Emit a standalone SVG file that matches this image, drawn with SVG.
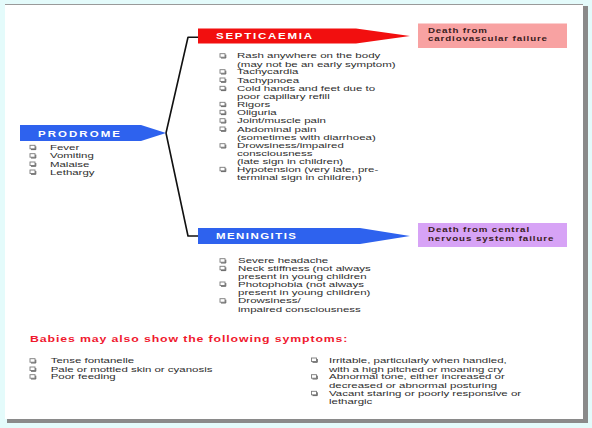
<svg xmlns="http://www.w3.org/2000/svg" xmlns:xlink="http://www.w3.org/1999/xlink" width="592" height="428" viewBox="0 0 592 428">
<style>
.t{font-family:"Liberation Sans",Arial,sans-serif;font-size:8px;fill:#2e2e2e}
.h{font-family:"Liberation Sans",Arial,sans-serif;font-size:9px;font-weight:bold;fill:#ffffff}
.d{font-family:"Liberation Sans",Arial,sans-serif;font-size:7.6px;font-weight:bold;fill:#3a1c1c}
.bh{font-family:"Liberation Sans",Arial,sans-serif;font-size:9.6px;font-weight:bold;fill:#f0182e}
.conn{fill:none;stroke:#111;stroke-width:1.6;stroke-linejoin:round}
</style>
<defs>
<g id="b">
<rect x="0" y="0" width="5" height="3.5" fill="#fff" stroke="#7a7a7a" stroke-width="0.9"/>
<path d="M1,4.3 H5.8 V1" fill="none" stroke="#555" stroke-width="0.9"/>
</g>
</defs>
<rect x="0" y="0" width="592" height="428" fill="#e4fbfb"/>
<rect x="7" y="6" width="581" height="417" fill="#8a8a8a"/>
<rect x="5" y="4" width="578" height="415" fill="#ffffff"/>
<line x1="5" y1="4.5" x2="583" y2="4.5" stroke="#9a9a9a" stroke-width="1.2"/>

<g id="connectors">
<polyline class="conn" points="199,37.3 188,37.3 166,133 188,236 199,236"/>
</g>

<g id="prodrome">
<polygon points="20,125 141,125 166,133 141,141 20,141" fill="#2e62ee"/>
<g transform="translate(38,0) scale(1.28,1)"><text class="h" x="0" y="137" textLength="64">PRODROME</text></g>
<use xlink:href="#b" x="30" y="145.3"/>
<use xlink:href="#b" x="30" y="153.7"/>
<use xlink:href="#b" x="30" y="162"/>
<use xlink:href="#b" x="30" y="170"/>
<g transform="translate(50,0) scale(1.43,1)">
<text class="t" x="0" y="150.1">Fever</text>
<text class="t" x="0" y="158.5">Vomiting</text>
<text class="t" x="0" y="166.8">Malaise</text>
<text class="t" x="0" y="174.8">Lethargy</text>
</g>
</g>

<g id="septicaemia">
<polygon points="198,28.5 356,28.5 410,36 356,43.5 198,43.5" fill="#f20f0f"/>
<g transform="translate(216,0) scale(1.28,1)"><text class="h" x="0" y="38.8" textLength="75">SEPTICAEMIA</text></g>
<use xlink:href="#b" x="220" y="53.7"/>
<use xlink:href="#b" x="220" y="69.7"/>
<use xlink:href="#b" x="220" y="78"/>
<use xlink:href="#b" x="220" y="86.3"/>
<use xlink:href="#b" x="220" y="102.3"/>
<use xlink:href="#b" x="220" y="110.3"/>
<use xlink:href="#b" x="220" y="118.7"/>
<use xlink:href="#b" x="220" y="127"/>
<use xlink:href="#b" x="220" y="143.7"/>
<use xlink:href="#b" x="220" y="167.3"/>
<g transform="translate(237,0) scale(1.44,1)">
<text class="t" x="0" y="58.5">Rash anywhere on the body</text>
<text class="t" x="0" y="66.8">(may not be an early symptom)</text>
<text class="t" x="0" y="74.5">Tachycardia</text>
<text class="t" x="0" y="82.8">Tachypnoea</text>
<text class="t" x="0" y="91.1">Cold hands and feet due to</text>
<text class="t" x="0" y="99.5">poor capillary refill</text>
<text class="t" x="0" y="107.1">Rigors</text>
<text class="t" x="0" y="115.1">Oliguria</text>
<text class="t" x="0" y="123.5">Joint/muscle pain</text>
<text class="t" x="0" y="131.8">Abdominal pain</text>
<text class="t" x="0" y="140.1">(sometimes with diarrhoea)</text>
<text class="t" x="0" y="148.3">Drowsiness/impaired</text>
<text class="t" x="0" y="156.3">consciousness</text>
<text class="t" x="0" y="164.4">(late sign in children)</text>
<text class="t" x="0" y="172.4">Hypotension (very late, pre-</text>
<text class="t" x="0" y="180.4">terminal sign in children)</text>
</g>
</g>

<g id="death-cardio">
<rect x="418" y="23.5" width="149" height="24.5" fill="#f8a2a2"/>
<g transform="translate(428,0) scale(1.28,1)">
<text class="d" x="0" y="33.4" textLength="46">Death from</text>
<text class="d" x="0" y="41.4" textLength="93">cardiovascular failure</text>
</g>
</g>

<g id="meningitis">
<polygon points="198,228 360,228 410,236 360,244 198,244" fill="#2e62ee"/>
<g transform="translate(216,0) scale(1.28,1)"><text class="h" x="0" y="238.6" textLength="62.5">MENINGITIS</text></g>
<use xlink:href="#b" x="220" y="258.7"/>
<use xlink:href="#b" x="220" y="266.3"/>
<use xlink:href="#b" x="220" y="282"/>
<use xlink:href="#b" x="220" y="298.7"/>
<g transform="translate(238,0) scale(1.44,1)">
<text class="t" x="0" y="263.5">Severe headache</text>
<text class="t" x="0" y="271.1">Neck stiffness (not always</text>
<text class="t" x="0" y="279.1">present in young children</text>
<text class="t" x="0" y="287.2">Photophobia (not always</text>
<text class="t" x="0" y="295.3">present in young children)</text>
<text class="t" x="0" y="303.5">Drowsiness/</text>
<text class="t" x="0" y="311.8">impaired consciousness</text>
</g>
</g>

<g id="death-cns">
<rect x="418" y="223" width="149" height="24" fill="#d7a3f6"/>
<g transform="translate(428,0) scale(1.28,1)">
<text class="d" x="0" y="232.4" textLength="79">Death from central</text>
<text class="d" x="0" y="240.6" textLength="98">nervous system failure</text>
</g>
</g>

<g id="babies">
<g transform="translate(30,0) scale(1.28,1)"><text class="bh" x="0" y="342.4" textLength="248">Babies may also show the following symptoms:</text></g>
<use xlink:href="#b" x="30" y="358.7"/>
<use xlink:href="#b" x="30" y="367"/>
<use xlink:href="#b" x="30" y="374.7"/>
<g transform="translate(50.7,0) scale(1.435,1)">
<text class="t" x="0" y="363.5">Tense fontanelle</text>
<text class="t" x="0" y="371.8">Pale or mottled skin or cyanosis</text>
<text class="t" x="0" y="379.5">Poor feeding</text>
</g>
<use xlink:href="#b" x="311.5" y="358"/>
<use xlink:href="#b" x="311.5" y="374.7"/>
<use xlink:href="#b" x="311.5" y="391.3"/>
<g transform="translate(329,0) scale(1.435,1)">
<text class="t" x="0" y="362.8">Irritable, particularly when handled,</text>
<text class="t" x="0" y="371.8">with a high pitched or moaning cry</text>
<text class="t" x="0" y="379.5">Abnormal tone, either increased or</text>
<text class="t" x="0" y="387.8">decreased or abnormal posturing</text>
<text class="t" x="0" y="396.1">Vacant staring or poorly responsive or</text>
<text class="t" x="0" y="403.8">lethargic</text>
</g>
</g>
</svg>
